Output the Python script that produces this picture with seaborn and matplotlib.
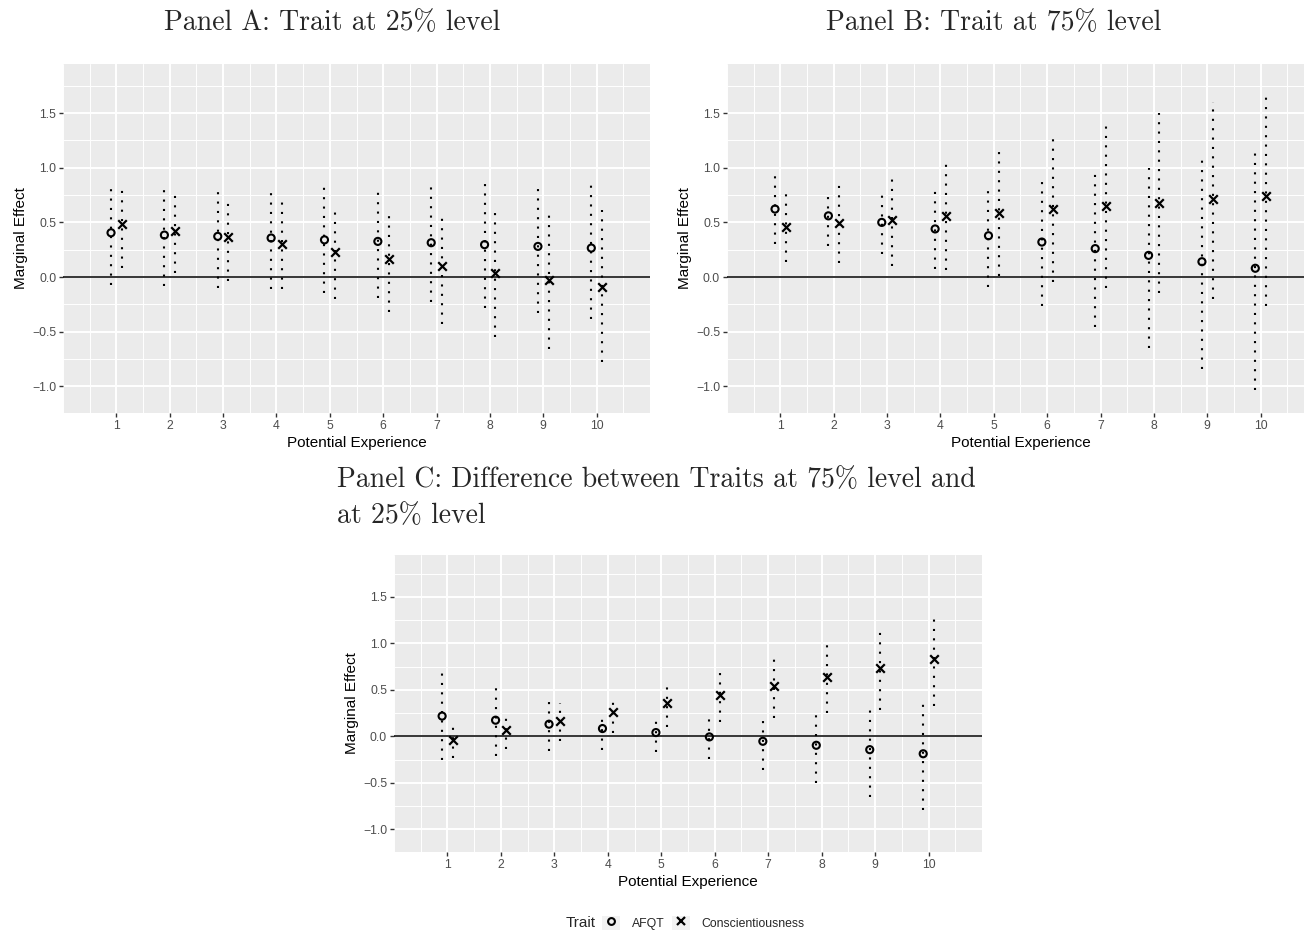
import numpy as np
import pandas as pd
import matplotlib
matplotlib.use("Agg")
import matplotlib.pyplot as plt
import seaborn as sns
from matplotlib.patches import Rectangle
from matplotlib.lines import Line2D
from matplotlib.legend_handler import HandlerTuple
from matplotlib.ticker import MultipleLocator

# ---------------- data ----------------
experience = [1, 2, 3, 4, 5, 6, 7, 8, 9, 10]
traits = ["AFQT", "Conscientiousness"]

# Panel A: trait at 25% level
a_afqt_est = [0.405, 0.384, 0.372, 0.357, 0.340, 0.326, 0.314, 0.296, 0.280, 0.265]
a_afqt_lo = [-0.07, -0.08, -0.10, -0.11, -0.15, -0.19, -0.23, -0.28, -0.33, -0.38]
a_afqt_hi = [0.84, 0.83, 0.82, 0.79, 0.83, 0.81, 0.845, 0.87, 0.83, 0.855]
a_cons_est = [0.488, 0.424, 0.363, 0.300, 0.232, 0.168, 0.100, 0.040, -0.027, -0.090]
a_cons_lo = [0.085, 0.040, -0.037, -0.11, -0.20, -0.317, -0.427, -0.546, -0.66, -0.78]
a_cons_hi = [0.84, 0.79, 0.72, 0.71, 0.625, 0.595, 0.573, 0.613, 0.573, 0.613]

# Panel B: trait at 75% level
b_afqt_est = [0.622, 0.560, 0.500, 0.440, 0.378, 0.320, 0.260, 0.198, 0.140, 0.080]
b_afqt_lo = [0.30, 0.284, 0.207, 0.07, -0.09, -0.27, -0.457, -0.65, -0.84, -1.037]
b_afqt_hi = [0.948, 0.787, 0.787, 0.817, 0.817, 0.887, 0.94, 1.00, 1.12, 1.18]
b_cons_est = [0.457, 0.490, 0.520, 0.555, 0.585, 0.620, 0.650, 0.680, 0.713, 0.744]
b_cons_lo = [0.14, 0.13, 0.10, 0.06, 0.01, -0.046, -0.098, -0.15, -0.204, -0.265]
b_cons_hi = [0.787, 0.857, 0.924, 1.05, 1.168, 1.28, 1.39, 1.50, 1.60, 1.70]

# Panel C: difference between 75% and 25% level
c_afqt_est = [0.217, 0.173, 0.130, 0.083, 0.040, -0.007, -0.054, -0.097, -0.144, -0.188]
c_afqt_lo = [-0.26, -0.21, -0.16, -0.144, -0.166, -0.245, -0.36, -0.50, -0.65, -0.794]
c_afqt_hi = [0.70, 0.56, 0.426, 0.25, 0.23, 0.238, 0.235, 0.28, 0.33, 0.38]
c_cons_est = [-0.036, 0.069, 0.160, 0.256, 0.354, 0.448, 0.540, 0.640, 0.736, 0.830]
c_cons_lo = [-0.235, -0.134, -0.047, 0.036, 0.097, 0.152, 0.20, 0.253, 0.278, 0.325]
c_cons_hi = [0.162, 0.264, 0.354, 0.433, 0.585, 0.733, 0.88, 1.025, 1.166, 1.307]

panel_titles = {
    "A": "Panel A: Trait at 25% level",
    "B": "Panel B: Trait at 75% level",
    "C": "Panel C: Difference between Traits at 75% level and\nat 25% level",
}

rows = []
for panel, series in {
    "A": [(a_afqt_est, a_afqt_lo, a_afqt_hi), (a_cons_est, a_cons_lo, a_cons_hi)],
    "B": [(b_afqt_est, b_afqt_lo, b_afqt_hi), (b_cons_est, b_cons_lo, b_cons_hi)],
    "C": [(c_afqt_est, c_afqt_lo, c_afqt_hi), (c_cons_est, c_cons_lo, c_cons_hi)],
}.items():
    for trait, (est, lo, hi) in zip(traits, series):
        for e, m, l, h in zip(experience, est, lo, hi):
            rows.append(dict(panel=panel, trait=trait, exp=e, est=m, lo=l, hi=h))
df = pd.DataFrame(rows)
dodge = {"AFQT": -0.1, "Conscientiousness": 0.1}
df["xpos"] = df["exp"] + df["trait"].map(dodge)

# ---------------- style ----------------
sns.set_theme(style="darkgrid")
plt.rcParams["font.family"] = ["Liberation Sans", "DejaVu Sans"]
plt.rcParams["axes.unicode_minus"] = True

W, H = 1304, 934
fig = plt.figure(figsize=(W / 100, H / 100), dpi=100)
fig.patch.set_facecolor("white")


def ax_at(l, t, r, b):
    return fig.add_axes([l / W, 1 - b / H, (r - l) / W, (b - t) / H])


axes = {
    "A": ax_at(63, 64, 650, 413),
    "B": ax_at(727, 64, 1314, 413),
    "C": ax_at(394, 555, 982, 852),
}

dot_style = (0, (1, 3.5))

for panel, ax in axes.items():
    sub = df[df["panel"] == panel]
    ax.set_facecolor("#EBEBEB")
    for s in ax.spines.values():
        s.set_visible(False)
    ax.set_xlim(0, 11)
    ax.set_ylim(-1.245, 1.95)
    ax.set_xticks(experience)
    ax.xaxis.set_minor_locator(MultipleLocator(0.5))
    ax.set_yticks([-1.0, -0.5, 0.0, 0.5, 1.0, 1.5])
    ax.yaxis.set_minor_locator(MultipleLocator(0.25))
    ax.grid(which="major", color="white", linewidth=1.4)
    ax.grid(which="minor", color="white", linewidth=0.7)
    ax.set_axisbelow(True)
    ax.tick_params(which="major", length=2.75, width=1.0, color="#333333",
                   labelcolor="#4D4D4D", labelsize=8.8, pad=2.2,
                   bottom=True, left=True)
    ax.tick_params(which="minor", length=0)

    ax.axhline(0, color="black", linewidth=1.1, zorder=3)

    for trait in traits:
        t = sub[sub["trait"] == trait]
        ax.vlines(t["xpos"], t["lo"], t["hi"], colors="black",
                  linewidth=1.5, linestyles=dot_style, zorder=3)
    afqt = sub[sub["trait"] == "AFQT"]
    cons = sub[sub["trait"] == "Conscientiousness"]
    sns.scatterplot(data=afqt, x="xpos", y="est", ax=ax, marker="o", s=26,
                    color="black", facecolor="none", edgecolor="black",
                    linewidth=1.5, zorder=4, legend=False)
    sns.scatterplot(data=cons, x="xpos", y="est", ax=ax, marker="x", s=38,
                    color="black", linewidth=1.6, zorder=4, legend=False)

    ax.set_xlabel("Potential Experience", fontsize=11, color="black", labelpad=3)
    ax.set_ylabel("Marginal Effect", fontsize=11, color="black", labelpad=3)

title_font = ["cmr10", "DejaVu Serif"]
fig.text(332 / W, 1 - 30 / H, panel_titles["A"], ha="center", va="baseline",
         fontsize=20, family=title_font)
fig.text(994 / W, 1 - 30 / H, panel_titles["B"], ha="center", va="baseline",
         fontsize=20, family=title_font)
fig.text(337 / W, 1 - 523 / H, panel_titles["C"], ha="left", va="baseline",
         fontsize=20, family=title_font, linespacing=1.45)

# legend
fig.text(566 / W, 1 - 923 / H, "Trait", ha="left", va="center", fontsize=11)
key_bg = dict(facecolor="#F2F2F2", edgecolor="none")
handles = [
    (Rectangle((0, 0), 1, 1, **key_bg),
     Line2D([], [], marker="o", ls="none", mfc="none", mec="black", mew=1.5, ms=4.9)),
    (Rectangle((0, 0), 1, 1, **key_bg),
     Line2D([], [], marker="x", ls="none", color="black", mew=1.6, ms=6)),
]
fig.legend(handles, traits, handler_map={tuple: HandlerTuple(ndivide=1, pad=0)},
           loc="center left", bbox_to_anchor=(602 / W, 1 - 923 / H), ncol=2,
           frameon=False, fontsize=8.8, handlelength=1.47, handleheight=1.47,
           handletextpad=1.0, columnspacing=0.55, borderpad=0, borderaxespad=0)

fig.savefig("out.png", dpi=100)
